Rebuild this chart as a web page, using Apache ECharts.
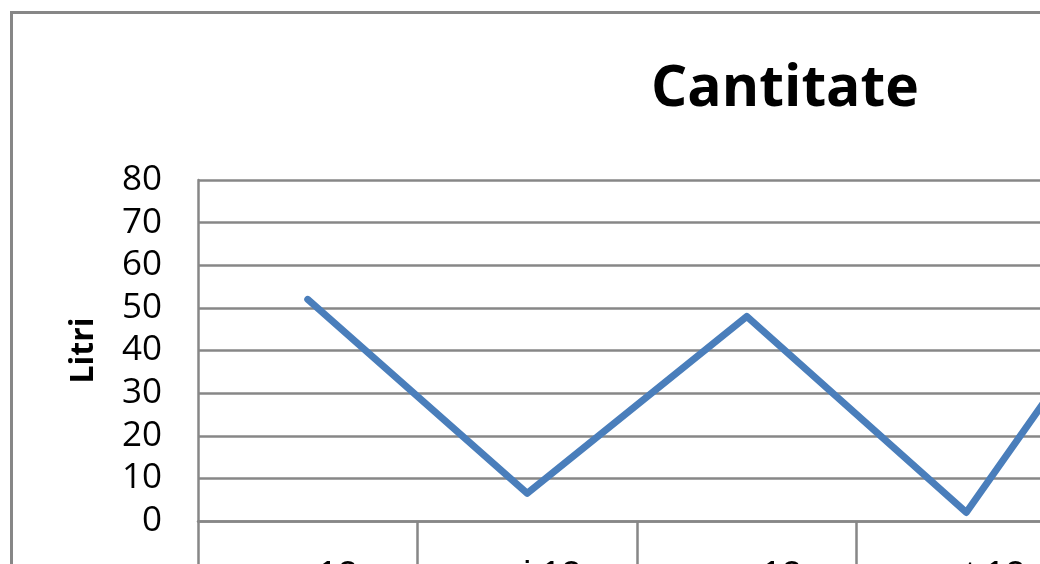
<!DOCTYPE html>
<html>
<head>
<meta charset="utf-8">
<script src="https://cdn.jsdelivr.net/npm/echarts@6/dist/echarts.min.js"></script>
<style>
html,body{margin:0;padding:0;background:#fff;}
#chart{width:1040px;height:564px;}
</style>
</head>
<body>
<div id="chart"></div>
<script>
var titleText = "Cantitate";
var yAxisName = "Litri";
var categories = ["apr.12", "mai.12", "aug.12", "sept.12", "oct.12"];
var values = [52, 6.5, 48, 2, 75];
var yTicks = { min: 0, max: 80, interval: 10 };

var chart = echarts.init(document.getElementById('chart'), null, { renderer: 'canvas' });
var gray = '#878787';
chart.setOption({
  animation: false,
  backgroundColor: '#ffffff',
  graphic: [
    { type: 'rect', shape: { x: 11.5, y: 12.5, width: 1400, height: 900 },
      style: { fill: 'none', stroke: gray, lineWidth: 3 }, z: 0 },
    { type: 'text', x: 785, y: 90,
      style: { text: titleText, font: 'bold 57px "Open Sans"', fill: '#000', textAlign: 'center', textVerticalAlign: 'middle' } }
  ],
  grid: { left: 198, top: 180, width: 1097.5, height: 341, outerBoundsMode: 'none', containLabel: false },
  xAxis: {
    type: 'category',
    data: categories,
    boundaryGap: true,
    axisLine: { show: true, lineStyle: { color: gray, width: 2.5 } },
    axisTick: { show: true, interval: 0, length: 60, lineStyle: { color: gray, width: 2.5 } },
    axisLabel: { interval: 0, margin: 38, color: '#000', fontSize: 36, fontFamily: '"Liberation Sans", Arial' },
    splitLine: { show: false }
  },
  yAxis: {
    type: 'value',
    min: yTicks.min, max: yTicks.max, interval: yTicks.interval,
    name: yAxisName,
    nameLocation: 'middle',
    nameGap: 98,
    nameTextStyle: { color: '#000', fontSize: 32, fontWeight: 'bold', fontFamily: '"Open Sans"' },
    axisLine: { show: true, lineStyle: { color: gray, width: 2.5 } },
    axisTick: { show: false },
    axisLabel: { margin: 36, color: '#000', fontSize: 35, fontFamily: '"Open Sans"' },
    splitLine: { show: true, lineStyle: { color: gray, width: 2.5 } }
  },
  series: [{
    type: 'line',
    data: values,
    showSymbol: false,
    symbol: 'none',
    lineStyle: { color: '#4a7ebb', width: 7, cap: 'round', join: 'round' },
    clip: false
  }]
});
</script>
</body>
</html>
